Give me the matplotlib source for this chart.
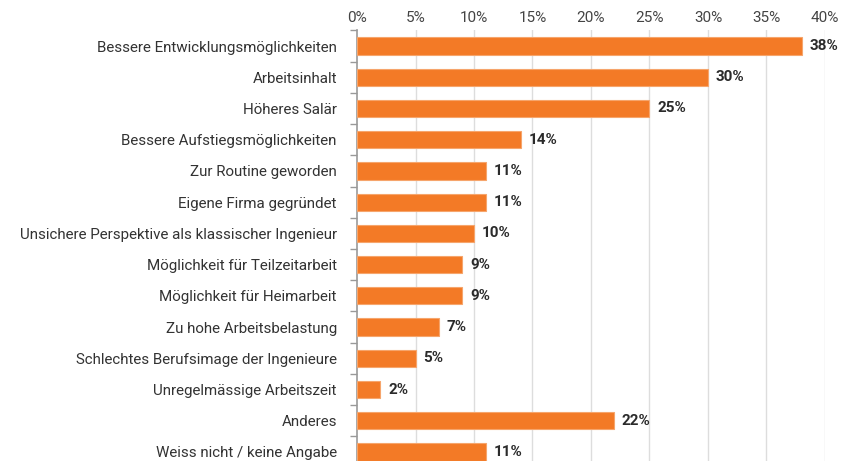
import matplotlib.pyplot as plt
import numpy as np

# data
categories = ['Bessere Entwicklungsmöglichkeiten', 'Arbeitsinhalt', 'Höheres Salär',
              'Bessere Aufstiegsmöglichkeiten', 'Zur Routine geworden',
              'Eigene Firma gegründet', 'Unsichere Perspektive als klassischer Ingenieur',
              'Möglichkeit für Teilzeitarbeit', 'Möglichkeit für Heimarbeit',
              'Zu hohe Arbeitsbelastung', 'Schlechtes Berufsimage der Ingenieure',
              'Unregelmässige Arbeitszeit', 'Anderes', 'Weiss nicht / keine Angabe']
values = [38, 30, 25, 14, 11, 11, 10, 9, 9, 7, 5, 2, 22, 11]
xticks = [0, 5, 10, 15, 20, 25, 30, 35, 40]

plt.rcParams['font.family'] = ['Roboto', 'DejaVu Sans']

fig = plt.figure(figsize=(8.49, 4.61), dpi=100)
ax = fig.add_axes([0.4205, -0.0143, 0.5512, 0.9483])

y = np.arange(len(categories))
ax.barh(y, values, height=0.55, color='#F37A26', edgecolor='#F6A56C', linewidth=0.8, zorder=3)

for yi, v in zip(y, values):
    ax.text(v + 0.65, yi, f'{v}%', va='center', ha='left', fontsize=11,
            fontweight='bold', color='#2b2b2b')

ax.set_xlim(0, 40)
ax.set_ylim(len(categories) - 0.5, -0.5)
ax.set_xticks(xticks)
ax.set_xticklabels([f'{t}%' for t in xticks], fontsize=11, color='#444444')
ax.xaxis.tick_top()
ax.tick_params(axis='x', length=0, pad=4)

ax.set_yticks(y)
ax.set_yticklabels(categories, fontsize=10.9, color='#333333')
ax.tick_params(axis='y', length=0, pad=14.5)
ax.set_yticks(np.arange(len(categories) + 1) - 0.5, minor=True)
ax.tick_params(axis='y', which='minor', length=5, color='#999999', width=1)

for x in xticks[1:]:
    ax.axvline(x, color='#dddddd', linewidth=1, zorder=0)

for s in ['top', 'right', 'bottom']:
    ax.spines[s].set_visible(False)
ax.spines['left'].set_color('#999999')
ax.spines['left'].set_linewidth(1.2)

fig.savefig('out.png', dpi=100)
